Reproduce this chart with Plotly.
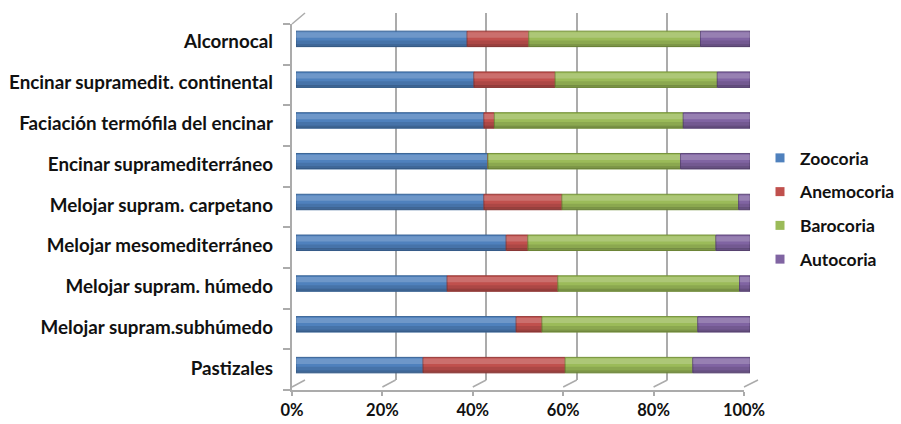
import plotly.graph_objects as go

# Seed-dispersal spectrum per vegetation type (percent of species)
categories = [
    "Alcornocal",
    "Encinar supramedit. continental",
    "Faciación termófila del encinar",
    "Encinar supramediterráneo",
    "Melojar supram. carpetano",
    "Melojar mesomediterráneo",
    "Melojar supram. húmedo",
    "Melojar supram.subhúmedo",
    "Pastizales",
]
zoocoria = [37.7, 39.2, 41.4, 42.3, 41.4, 46.3, 33.3, 48.5, 28.0]
anemocoria = [13.6, 17.9, 2.3, 0.0, 17.2, 4.8, 24.4, 5.7, 31.3]
barocoria = [37.8, 35.7, 41.6, 42.4, 38.9, 41.4, 40.0, 34.3, 28.1]
autocoria = [10.9, 7.2, 14.7, 15.3, 2.5, 7.5, 2.3, 11.5, 12.6]

series_names = ["Zoocoria", "Anemocoria", "Barocoria", "Autocoria"]
series_values = [zoocoria, anemocoria, barocoria, autocoria]
series_colors = ["#4F81BD", "#C0504D", "#9BBB59", "#8064A2"]
series_edges = ["#3A6496", "#963C3A", "#76923C", "#5F497A"]

x_ticks = [0, 20, 40, 60, 80, 100]

# ---- page geometry (pixels) for the pseudo-3D frame ----
W, H = 901, 424
FRONT = dict(x0=292, x1=744, y0=24, y1=390)   # front plane: axis lines and labels
BACK = dict(x0=305, x1=758, y0=13, y1=380)    # back wall: gridlines
BARS = dict(x0=296, x1=750, y0=18.5, y1=385.5)  # bar plane


def fx(p):
    return p / W


def fy(p):
    return 1 - p / H


FONT = "Lato, 'Open Sans', sans-serif"
TEXT = "#111111"
FRAME = "#ABABAB"
BAR_W = 0.38

fig = go.Figure()

# back wall holder (gridlines only)
fig.add_trace(go.Scatter(x=[0], y=[0], mode="markers", marker=dict(opacity=0),
                         hoverinfo="skip", showlegend=False, xaxis="x", yaxis="y"))

# stacked 100% bars, drawn as segments with explicit base
cum = [0.0] * len(categories)
for name, vals, col, edge in zip(series_names, series_values, series_colors, series_edges):
    base = list(cum)
    fig.add_trace(go.Bar(
        y=categories, x=vals, base=base, orientation="h", name=name,
        marker=dict(color=col, line=dict(color=edge, width=1)),
        width=BAR_W, xaxis="x2", yaxis="y2", legendgroup=name, showlegend=False,
    ))
    # cylinder shading: upper highlight and lower shadow bands
    fig.add_trace(go.Bar(
        y=categories, x=vals, base=base, orientation="h",
        marker=dict(color="rgba(255,255,255,0.18)", line=dict(width=0)),
        width=0.13, offset=-0.16, xaxis="x2", yaxis="y2",
        showlegend=False, hoverinfo="skip", legendgroup=name,
    ))
    fig.add_trace(go.Bar(
        y=categories, x=vals, base=base, orientation="h",
        marker=dict(color="rgba(0,0,0,0.10)", line=dict(width=0)),
        width=0.10, offset=0.04, xaxis="x2", yaxis="y2",
        showlegend=False, hoverinfo="skip", legendgroup=name,
    ))
    fig.add_trace(go.Bar(
        y=categories, x=vals, base=base, orientation="h",
        marker=dict(color="rgba(0,0,0,0.20)", line=dict(width=0)),
        width=0.06, offset=0.13, xaxis="x2", yaxis="y2",
        showlegend=False, hoverinfo="skip", legendgroup=name,
    ))
    # legend key: small square swatch
    fig.add_trace(go.Scatter(
        x=[None], y=[None], mode="markers", name=name, legendgroup=name,
        marker=dict(symbol="square", size=9, color=col),
        xaxis="x2", yaxis="y2", hoverinfo="skip",
    ))
    cum = [c + v for c, v in zip(cum, vals)]

# front frame holder
fig.add_trace(go.Scatter(x=[0], y=[0], mode="markers", marker=dict(opacity=0),
                         hoverinfo="skip", showlegend=False, xaxis="x3", yaxis="y3"))

# floor and corner edges of the 3D frame
shapes = []
for t in x_ticks:
    xf = FRONT["x0"] + (FRONT["x1"] - FRONT["x0"]) * t / 100
    xb = BACK["x0"] + (BACK["x1"] - BACK["x0"]) * t / 100
    shapes.append(dict(type="line", xref="paper", yref="paper",
                       x0=fx(xf), y0=fy(FRONT["y1"] - 3), x1=fx(xb), y1=fy(BACK["y1"]),
                       line=dict(color=FRAME, width=1.5)))
shapes.append(dict(type="line", xref="paper", yref="paper",
                   x0=fx(FRONT["x0"]), y0=fy(FRONT["y0"]), x1=fx(BACK["x0"]), y1=fy(BACK["y0"]),
                   line=dict(color=FRAME, width=1.5)))

fig.update_layout(
    width=W, height=H,
    margin=dict(l=0, r=0, t=0, b=0, autoexpand=False),
    paper_bgcolor="white", plot_bgcolor="rgba(0,0,0,0)",
    barmode="overlay",
    showlegend=True,
    shapes=shapes,
    font=dict(family=FONT, size=16, color=TEXT, weight="bold"),
    # back wall
    xaxis=dict(domain=[fx(BACK["x0"]), fx(BACK["x1"])], range=[0, 100],
               tickvals=x_ticks, showgrid=True, gridcolor=FRAME, gridwidth=2,
               zeroline=False, showticklabels=False, ticks="", showline=False,
               fixedrange=True, anchor="y", automargin=False),
    yaxis=dict(domain=[fy(BACK["y1"]), fy(BACK["y0"])], range=[0, 1],
               showgrid=False, zeroline=False, showticklabels=False, ticks="",
               showline=False, fixedrange=True, anchor="x", automargin=False),
    # bars
    xaxis2=dict(domain=[fx(BARS["x0"]), fx(BARS["x1"])], range=[0, 100],
                showgrid=False, zeroline=False, showticklabels=False, ticks="",
                showline=False, fixedrange=True, anchor="y2", automargin=False),
    yaxis2=dict(domain=[fy(BARS["y1"]), fy(BARS["y0"])], type="category",
                categoryorder="array", categoryarray=categories,
                autorange="reversed", showgrid=False, zeroline=False,
                ticks="", ticklabelstandoff=22, ticklabelshift=-3, showline=False,
                tickfont=dict(family=FONT, size=18.8, color=TEXT, weight="bold"),
                fixedrange=True, anchor="x2", automargin=False),
    # front axes
    xaxis3=dict(domain=[fx(FRONT["x0"]), fx(FRONT["x1"])], range=[0, 100],
                tickvals=x_ticks, ticktext=[f"{t}%" for t in x_ticks],
                showgrid=False, zeroline=False, showline=True, linecolor=FRAME,
                linewidth=1.5, ticks="outside", ticklen=4, tickcolor=FRAME,
                tickwidth=1.5,
                tickfont=dict(family=FONT, size=16.5, color=TEXT, weight="bold"),
                fixedrange=True, anchor="y3", automargin=False),
    yaxis3=dict(domain=[fy(FRONT["y1"]), fy(FRONT["y0"])], range=[0, len(categories)],
                tickvals=list(range(len(categories) + 1)), showticklabels=False,
                showgrid=False, zeroline=False, showline=True, linecolor=FRAME,
                linewidth=2, ticks="outside", ticklen=7, tickcolor=FRAME,
                tickwidth=1.5, fixedrange=True, anchor="x3", automargin=False),
    legend=dict(xref="container", yref="container",
                x=fx(760), y=fy(140), xanchor="left", yanchor="top",
                traceorder="grouped", tracegroupgap=8, itemwidth=30,
                font=dict(family=FONT, size=17.5, color=TEXT, weight="bold"),
                bgcolor="rgba(0,0,0,0)"),
)

fig.write_html("out.html")
